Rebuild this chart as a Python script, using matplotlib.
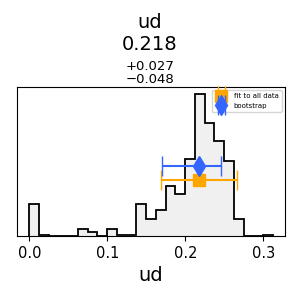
import numpy as np
import matplotlib.pyplot as plt

# histogram of bootstrap values (25 bins, 0 .. 0.312)
bin_lo, bin_hi, n_bins = 0.0, 0.312, 25
counts = [21, 1, 0, 0, 0, 4.5, 3, 0, 4.5, 1, 1, 21, 11.5, 17.5, 33,
          28, 51, 94, 75, 63, 49.5, 11.5, 0, 0, 1]

best = 0.218
err_fit = (0.049, 0.048)
err_boot = (0.048, 0.027)
y_fit, y_boot = 37, 46.5
name = "ud"

edges = np.linspace(bin_lo, bin_hi, n_bins + 1)

fig = plt.figure(figsize=(3, 3), dpi=100)
ax = fig.add_axes([0.057, 0.213, 0.893, 0.497])

ax.stairs(counts, edges, fill=True, color="#f0f0f0")
ax.stairs(counts, edges, color="black", lw=1.3)

ax.errorbar([best], [y_fit], xerr=[[err_fit[0]], [err_fit[1]]], fmt="s",
            color="orange", ms=8, capsize=7, lw=1.5, label="fit to all data")
ax.errorbar([best], [y_boot], xerr=[[err_boot[0]], [err_boot[1]]], fmt="d",
            color="#3366ff", ms=10, capsize=7, lw=1.5, label="bootstrap")

ax.set_xlim(-0.0156, 0.3276)
ax.set_ylim(0, 98.7)
ax.set_yticks([])
ax.set_xticks([0.0, 0.1, 0.2, 0.3])
ax.tick_params(axis="x", labelsize=10.5)
ax.set_xlabel(name, fontsize=14)
ax.legend(loc="upper right", fontsize=5)

fig.text(0.5, 0.925, name, ha="center", va="center", fontsize=14)
fig.text(0.5, 0.85, f"{best:.3f}", ha="center", va="center", fontsize=14)
fig.text(0.5, 0.778, f"+{err_boot[1]:.3f}", ha="center", va="center", fontsize=9.5)
fig.text(0.5, 0.735, f"\u2212{err_boot[0]:.3f}", ha="center", va="center", fontsize=9.5)

fig.savefig("out.png")
